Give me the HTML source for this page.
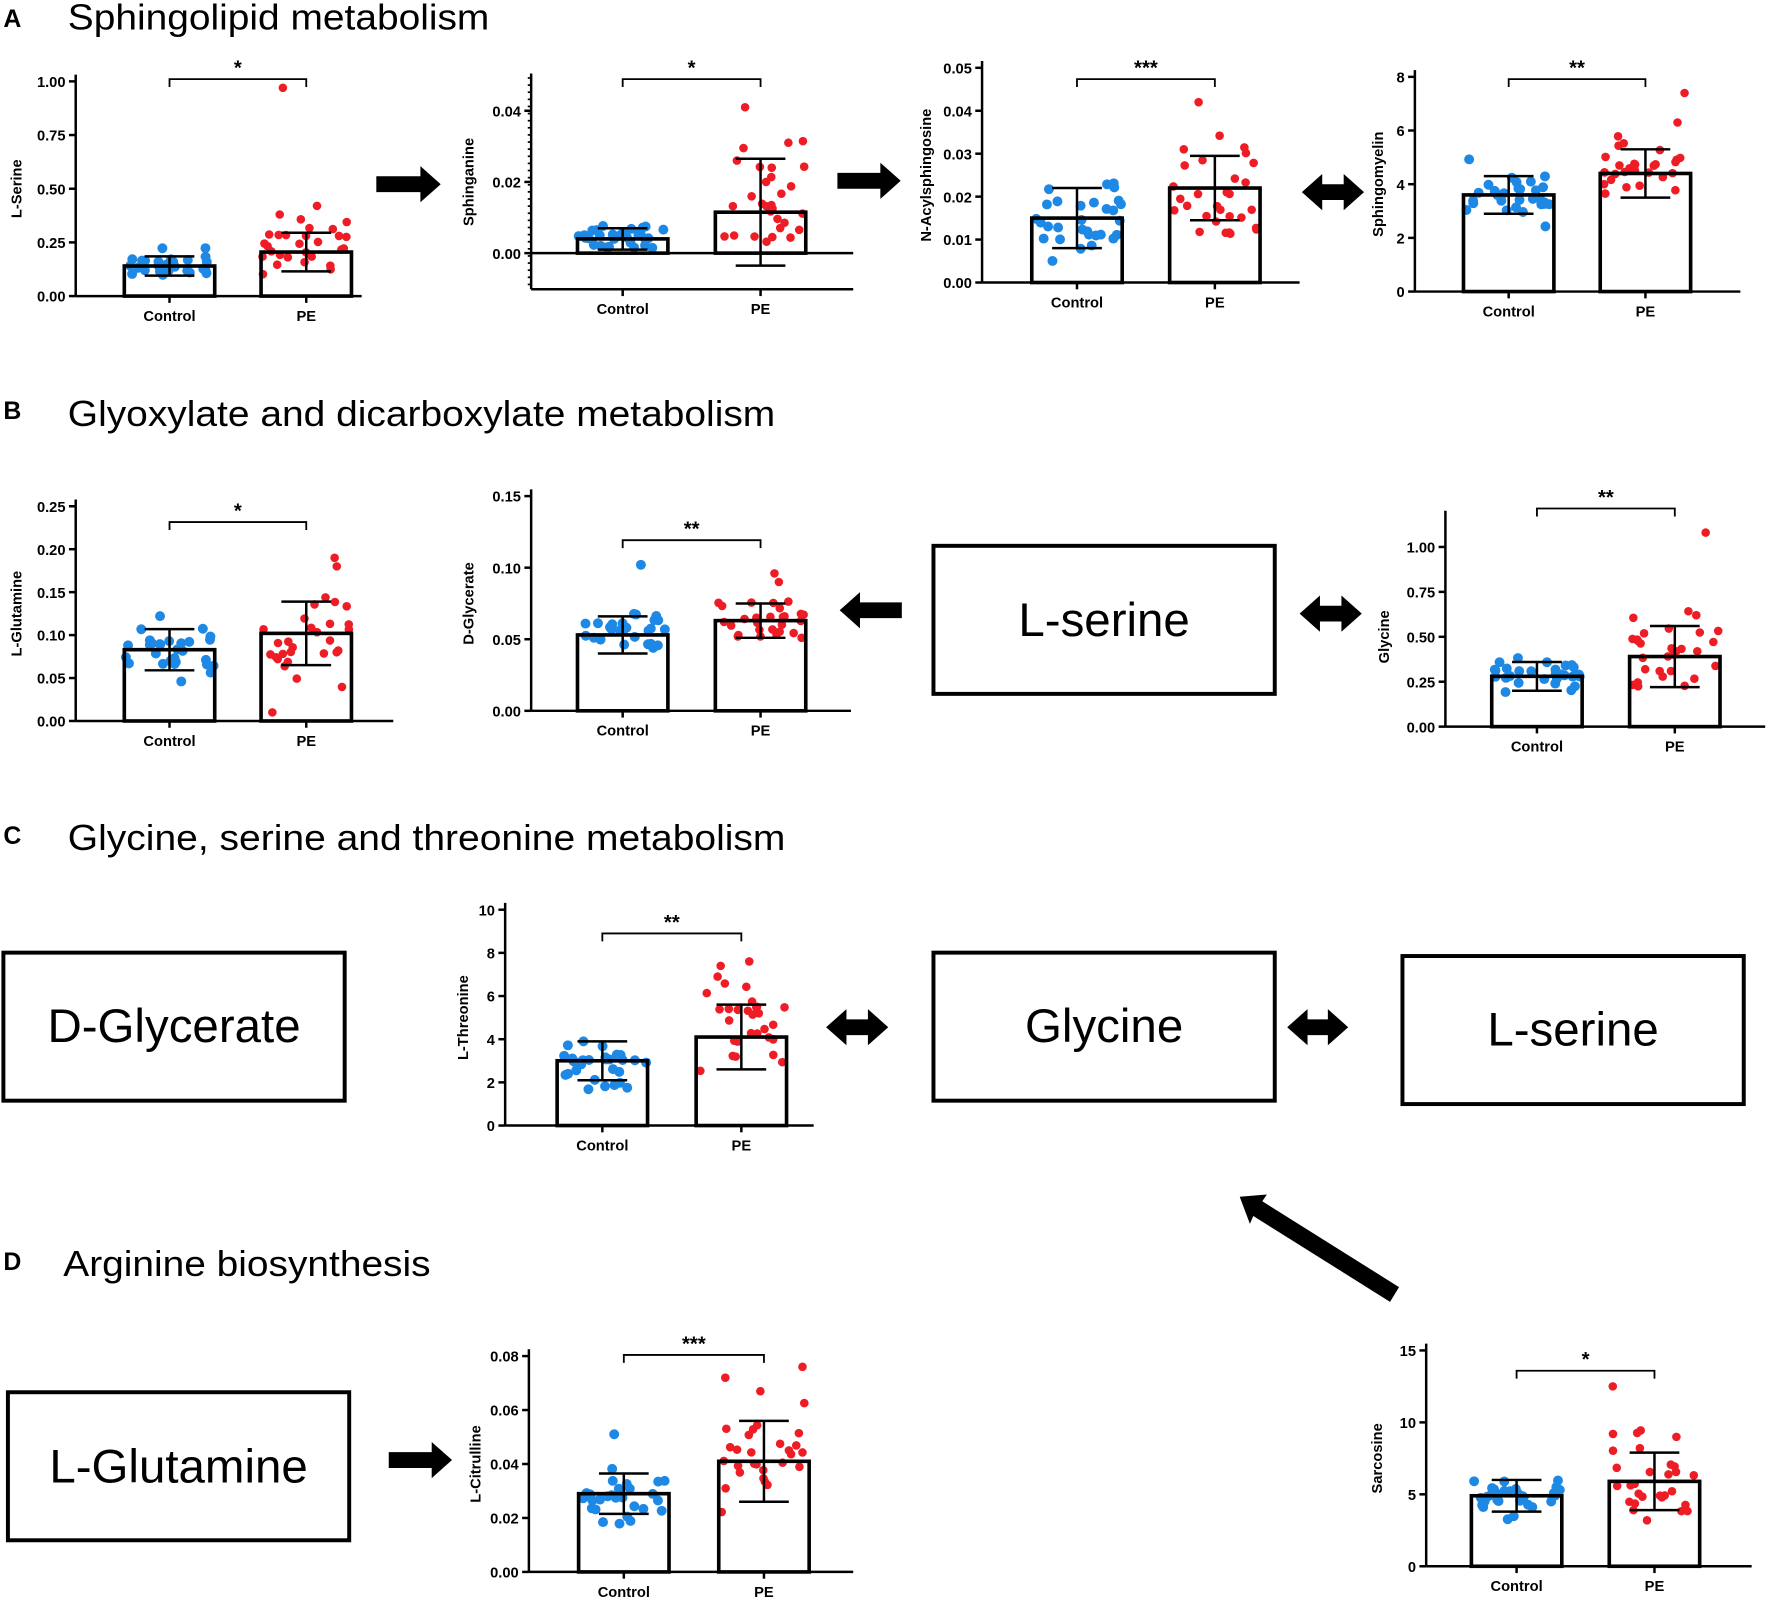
<!DOCTYPE html>
<html><head><meta charset="utf-8">
<style>html,body{margin:0;padding:0;background:#fff}svg{display:block}</style>
</head><body>
<svg id="s" xmlns="http://www.w3.org/2000/svg" width="1772" height="1603" viewBox="0 0 1568 1418.5" preserveAspectRatio="none" font-family="Liberation Sans, Arial, sans-serif">
<rect width="1568" height="1418.5" fill="#fff"/>
<g font-weight="bold" font-size="22">
<text x="3" y="24">A</text><text x="3" y="371">B</text><text x="3" y="747">C</text><text x="3" y="1124">D</text>
</g>
<g font-size="32">
<text x="60" y="26" textLength="373" lengthAdjust="spacingAndGlyphs">Sphingolipid metabolism</text>
<text x="60" y="377" textLength="626" lengthAdjust="spacingAndGlyphs">Glyoxylate and dicarboxylate metabolism</text>
<text x="60" y="752" textLength="635" lengthAdjust="spacingAndGlyphs">Glycine, serine and threonine metabolism</text>
<text x="56" y="1129" textLength="325" lengthAdjust="spacingAndGlyphs">Arginine biosynthesis</text>
</g>
<g fill="none" stroke="#000" stroke-width="3.5">
<rect x="826" y="483" width="302" height="131"/>
<rect x="3" y="843" width="302" height="131"/>
<rect x="826" y="843" width="302" height="131"/>
<rect x="1241" y="846" width="302" height="131"/>
<rect x="7" y="1232" width="302" height="131"/>
</g>
<g font-size="42" text-anchor="middle">
<text x="977" y="563">L-serine</text>
<text x="154" y="922">D-Glycerate</text>
<text x="977" y="922">Glycine</text>
<text x="1392" y="925">L-serine</text>
<text x="158" y="1312">L-Glutamine</text>
</g>
<g id="arrows" fill="#000"></g>
<g id="charts"></g>
</svg>
<script>
var seed=7;function rnd(){seed=(seed*16807)%2147483647;return seed/2147483647;}
function gauss(){var u=rnd()+rnd()+rnd()+rnd()-2;return u*1.3;}
var out="";
function L(x1,y1,x2,y2,w){out+='<line x1="'+x1+'" y1="'+y1+'" x2="'+x2+'" y2="'+y2+'" stroke="#000" stroke-width="'+(w||2.2)+'"/>';}
function T(x,y,t,a,fs,extra){out+='<text x="'+x+'" y="'+y+'" font-size="'+(fs||13)+'" font-weight="bold" text-anchor="'+(a||"middle")+'" '+(extra||"")+'>'+t+'</text>';}
function chart(c){
 var ys=function(v){return c.y0-(v/c.max)*(c.y0-c.ytop);};
 var top=c.axTop||c.ytop-6, bot=c.axBot||c.y0;
 L(c.ax,top,c.ax,bot);
 L(c.ax,bot,c.axRight,bot);
 if(c.axBot) L(c.ax,c.y0,c.axRight,c.y0);
 c.ticks.forEach(function(t){var y=ys(t[0]);L(c.ax-6,y,c.ax,y);T(c.ax-9,y+5,t[1],"end");});
 if(c.minor){for(var y=top+4;y<bot;y+=6.3){L(c.ax-3,y,c.ax,y,1.5);}}
 var bars=[c.b1,c.b2],cols=["#1e88e5","#ee1c25"],names=["Control","PE"];
 for(var i=0;i<2;i++){
  var b=bars[i],cx=b[0]+40,my=ys(b[1]);
  var rr=i==0?4.4:3.8;
  for(var k=0;k<30;k++){
   var v=b[1]+gauss()*b[2]*0.9; if(v<b[3])v=b[3]+rnd()*b[2]*0.3;
   if(b[4]&&k<b[4].length) v=b[4][k];
   var x=cx+(rnd()*2-1)*39;
   out+='<circle cx="'+x.toFixed(1)+'" cy="'+ys(v).toFixed(1)+'" r="'+rr+'" fill="'+cols[i]+'"/>';
  }
  out+='<rect x="'+b[0]+'" y="'+my+'" width="80" height="'+(c.y0-my)+'" fill="none" stroke="#000" stroke-width="3.2"/>';
  var yu=ys(b[1]+b[2]),yd=ys(b[1]-b[2]);
  L(cx,yu,cx,yd,2.2);L(cx-22,yu,cx+22,yu,2.2);L(cx-22,yd,cx+22,yd,2.2);
  L(cx,bot,cx,bot+6);
  T(cx,bot+22,names[i]);
 }
 var c1=c.b1[0]+40,c2=c.b2[0]+40;
 out+='<path d="M'+c1+' '+(c.br+7)+'V'+c.br+'H'+c2+'V'+(c.br+7)+'" fill="none" stroke="#000" stroke-width="1.6"/>';
 T((c1+c2)/2,c.br-4,c.sig,"middle",18);
 var lx=c.ax-c.lo+4,ly=(c.ytop+c.y0)/2;
 T(lx,ly,c.label,"middle",13,'transform="rotate(-90 '+lx+' '+ly+')"');
}
function fmt(v,d){return v.toFixed(d);}
function tk(arr,d){return arr.map(function(v){return [v,fmt(v,d)];});}
chart({lo:52,ax:67,y0:262,ytop:72,max:1,axRight:320,ticks:tk([0,0.25,0.5,0.75,1],2),b1:[110,0.14,0.045,0.09],b2:[231,0.205,0.09,0.1,[0.97,0.42,0.38,0.28,0.28]],br:70,sig:"*",label:"L-Serine"});
chart({lo:55,ax:470,y0:224,ytop:98,max:0.04,axTop:65,axBot:256,minor:true,axRight:755,ticks:[[0,"0.00"],[0.02,"0.02"],[0.04,"0.04"]],b1:[511,0.004,0.003,0.0015],b2:[633,0.0115,0.015,0.003,[0.041,0.031,0.026,0.024,0.02]],br:70,sig:"*",label:"Sphinganine"});
chart({lo:49,ax:869,y0:250,ytop:60,max:0.05,axRight:1150,ticks:tk([0,0.01,0.02,0.03,0.04,0.05],2),b1:[913,0.015,0.007,0.005],b2:[1035,0.022,0.0075,0.011,[0.042]],br:70,sig:"***",label:"N-Acylsphingosine"});
chart({lo:32,ax:1252,y0:258,ytop:68,max:8,axRight:1540,ticks:tk([0,2,4,6,8],0),b1:[1295,3.6,0.7,2.2],b2:[1416,4.4,0.9,3.3,[7.4,6.3]],br:70,sig:"**",label:"Sphingomyelin"});
chart({lo:52,ax:67,y0:638,ytop:448,max:0.25,axRight:348,ticks:tk([0,0.05,0.1,0.15,0.2,0.25],2),b1:[110,0.083,0.024,0.04],b2:[231,0.102,0.037,0.01,[0.19,0.18,0.01]],br:462,sig:"*",label:"L-Glutamine"});
chart({lo:55,ax:470,y0:629,ytop:439,max:0.15,axRight:753,ticks:tk([0,0.05,0.1,0.15],2),b1:[511,0.053,0.013,0.04,[0.102]],b2:[633,0.063,0.012,0.05,[0.096,0.09]],br:478,sig:"**",label:"D-Glycerate"});
chart({lo:54,ax:1279,y0:643,ytop:484,max:1,axTop:452,axRight:1562,ticks:tk([0,0.25,0.5,0.75,1],2),b1:[1320,0.28,0.08,0.15],b2:[1442,0.39,0.17,0.22,[1.08,0.62]],br:450,sig:"**",label:"Glycine"});
chart({lo:37,ax:447,y0:996,ytop:805,max:10,axRight:720,ticks:tk([0,2,4,6,8,10],0),b1:[493,3.0,0.9,1.5],b2:[616,4.1,1.5,2.1,[7.6,7.4,6.9]],br:826,sig:"**",label:"L-Threonine"});
chart({lo:47,ax:468,y0:1391,ytop:1200,max:0.08,axRight:755,ticks:tk([0,0.02,0.04,0.06,0.08],2),b1:[512,0.029,0.0075,0.017,[0.051]],b2:[636,0.041,0.015,0.02,[0.076,0.072]],br:1199,sig:"***",label:"L-Citrulline"});
chart({lo:43,ax:1262,y0:1386,ytop:1195,max:15,axRight:1550,ticks:tk([0,5,10,15],0),b1:[1302,4.9,1.1,3.2],b2:[1424,5.9,2.0,3.0,[12.5,9.2]],br:1213,sig:"*",label:"Sarcosine"});
document.getElementById("charts").innerHTML=out;
var a="";
function harrow(x1,x2,y,dbl){var h=7,H=16,hl=18,p;
 if(x2>x1){p=dbl?[[x1,y],[x1+hl,y-H],[x1+hl,y-h]]:[[x1,y-h]];
  p=p.concat([[x2-hl,y-h],[x2-hl,y-H],[x2,y],[x2-hl,y+H],[x2-hl,y+h]]);
  p=p.concat(dbl?[[x1+hl,y+h],[x1+hl,y+H]]:[[x1,y+h]]);
 } else {p=[[x2,y],[x2+hl,y-H],[x2+hl,y-h],[x1,y-h],[x1,y+h],[x2+hl,y+h],[x2+hl,y+H]];}
 a+='<polygon points="'+p.map(function(q){return q.join(",")}).join(" ")+'"/>';}
harrow(333,390,163);harrow(741,797,160);harrow(1152,1207,170,true);
harrow(798,743,540);harrow(1150,1205,543,true);
harrow(731,786,909,true);harrow(1139,1193,909,true);
harrow(344,400,1292);
a+='<polygon points="1097,1059 1121,1057 1117,1063 1238,1139 1230,1152 1109,1076 1106,1083"/>';
document.getElementById("arrows").innerHTML=a;
</script>
</body></html>
